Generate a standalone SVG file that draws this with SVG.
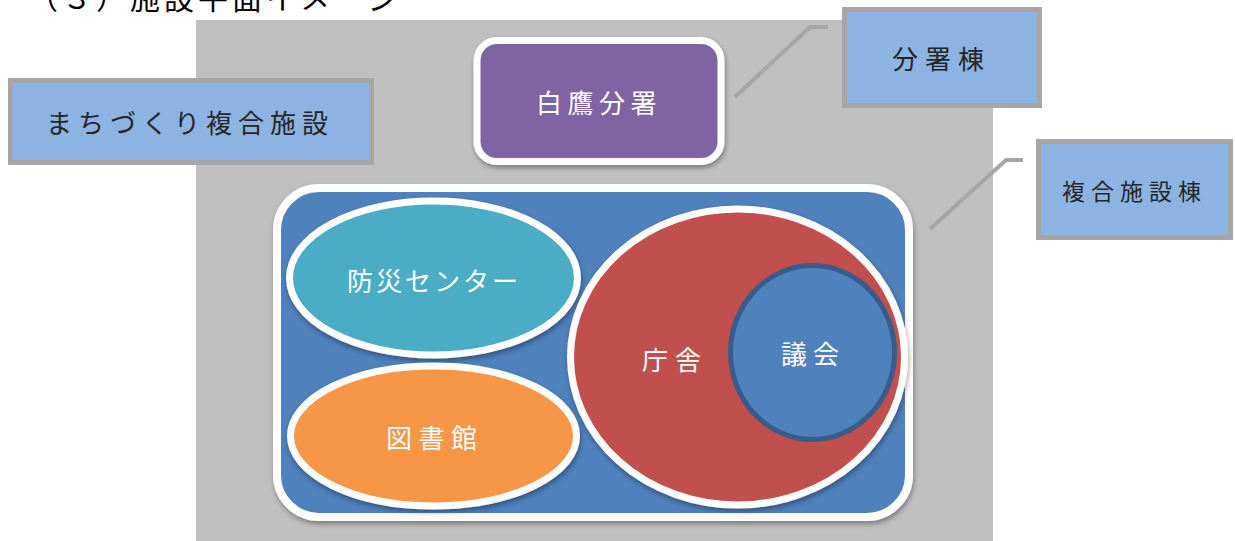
<svg xmlns="http://www.w3.org/2000/svg" width="1235" height="541" viewBox="0 0 1235 541">
<style>
text{font-family:"Noto Sans CJK JP","Noto Sans",sans-serif;dominant-baseline:central}
.lbl{fill:#8DB3E2;stroke:#A6A6A6;stroke-width:5}
.lt{fill:#262626;font-size:26px}
.wt{fill:#FFFFFF;font-size:26px}
.conn{fill:none;stroke:#A6A6A6;stroke-width:4}
.ws{stroke:#FFFFFF;stroke-width:7}
</style>
<defs>
<filter id="sh" x="-10%" y="-10%" width="125%" height="130%">
<feDropShadow dx="1" dy="3" stdDeviation="2.5" flood-color="#000" flood-opacity="0.35"/>
</filter>
</defs>
<rect width="1235" height="541" fill="#FFFFFF"/>
<rect x="196" y="20" width="797" height="521" fill="#BFBFBF"/>
<text x="28" y="-4" style="font-size:30px;fill:#000;letter-spacing:4px">（３）施設平面イメージ</text>

<g id="connectors">
<polyline class="conn" points="735,97 810,27 828,27"/>
<polyline class="conn" points="930,229 1006,160 1023,160"/>
</g>

<g id="label-machizukuri">
<rect class="lbl" x="10.5" y="80.5" width="361" height="82"/>
<text class="lt" x="46" y="121.5" style="letter-spacing:6px">まちづくり複合施設</text>
</g>
<g id="label-bunsho">
<rect class="lbl" x="844.5" y="9.5" width="195" height="96"/>
<text class="lt" x="892" y="57.5" style="letter-spacing:7px">分署棟</text>
</g>
<g id="label-fukugo">
<rect class="lbl" x="1038.5" y="141.5" width="192" height="96"/>
<text class="lt" x="1062" y="189.5" style="font-size:23px;letter-spacing:6px">複合施設棟</text>
</g>

<g id="node-shirataka">
<rect x="477" y="40.5" width="244" height="121" rx="20" fill="#8064A2" class="ws" filter="url(#sh)"/>
<text class="wt" x="536" y="101.5" style="letter-spacing:5.5px">白鷹分署</text>
</g>

<g id="node-fukugo">
<rect x="277" y="188" width="632" height="329" rx="42" fill="#4F81BD" stroke="#FFFFFF" stroke-width="8" filter="url(#sh)"/>
</g>

<g id="node-bousai">
<ellipse cx="433.5" cy="278" rx="144" ry="77" fill="#4BACC6" class="ws" filter="url(#sh)"/>
<text class="wt" x="347" y="279" style="letter-spacing:3px">防災センター</text>
</g>

<g id="node-toshokan">
<ellipse cx="433.5" cy="436" rx="143" ry="70" fill="#F79646" class="ws" filter="url(#sh)"/>
<text class="wt" x="386" y="436" style="letter-spacing:6.5px">図書館</text>
</g>

<g id="node-chousha">
<ellipse cx="737.5" cy="357" rx="167" ry="148" fill="#C0504D" class="ws" filter="url(#sh)"/>
<text class="wt" x="642" y="358.5" style="letter-spacing:7px">庁舎</text>
</g>

<g id="node-gikai">
<ellipse cx="812.5" cy="352.5" rx="82" ry="87" fill="#4F81BD" stroke="#385D8A" stroke-width="5"/>
<text class="wt" x="781" y="352.5" style="letter-spacing:6px">議会</text>
</g>
</svg>
